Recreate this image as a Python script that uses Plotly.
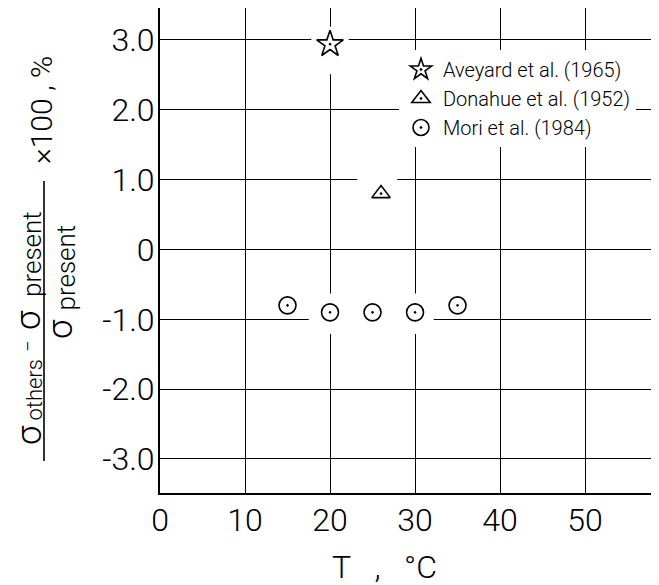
import plotly.graph_objects as go

# ---- data ----
aveyard_T = [20]
aveyard_dev = [2.94]
donahue_T = [26]
donahue_dev = [0.8]
mori_T = [15, 20, 25, 30, 35]
mori_dev = [-0.8, -0.9, -0.9, -0.9, -0.8]

x_tickvals = [0, 10, 20, 30, 40, 50]
x_ticktext = ["0", "10", "20", "30", "40", "50"]
y_tickvals = [3, 2, 1, 0, -1, -2, -3]
y_ticktext = ["3.0", "2.0", "1.0", "0", "-1.0", "-2.0", "-3.0"]

FONT = "Roboto"
OFF = 8                      # page body margin of the html page
W, H = 659 - OFF, 585 - OFF
ML, MT, MB, MR = 160 - OFF, 0, 92, 0

fig = go.Figure()

series = [
    ("Aveyard et al. (1965)", aveyard_T, aveyard_dev, "star-open-dot", 20),
    ("Donahue et al. (1952)", donahue_T, donahue_dev, "triangle-up-open-dot", 16),
    ("Mori et al. (1984)", mori_T, mori_dev, "circle-open-dot", 17),
]
for i, (name, xs, ys, sym, size) in enumerate(series):
    fig.add_trace(go.Scatter(
        x=xs, y=ys, mode="markers", name=name, legendgroup=str(i),
        marker=dict(symbol=sym, size=size, color="black",
                    line=dict(color="black", width=1.6)),
    ))

# white "whiteout" patches behind the symbols (as in the printed figure)
masks = [
    (min(aveyard_T) - 2.2, max(aveyard_T) + 2.2, min(aveyard_dev) - 0.43, max(aveyard_dev) + 0.25),
    (min(donahue_T) - 2.8, max(donahue_T) + 1.9, min(donahue_dev) - 0.2, max(donahue_dev) + 0.3),
    (mori_T[1] - 2.5, mori_T[3] + 2.2, min(mori_dev) - 0.31, min(mori_dev) + 0.27),
]
for x0, x1, y0, y1 in masks:
    fig.add_shape(type="rect", xref="x", yref="y", x0=x0, x1=x1, y0=y0, y1=y1,
                  fillcolor="white", line=dict(width=0), layer="between")

pw = W - ML - MR
ph = H - MT - MB
def px_x(p):   # page pixel -> paper x
    return (p - OFF - ML) / pw
def px_y(p):   # page pixel -> paper y
    return (H - MB - (p - OFF)) / ph

def label(text, cx, cy, size, angle=-90):
    fig.add_annotation(text=text, xref="paper", yref="paper",
                       x=px_x(cx), y=px_y(cy), textangle=angle, showarrow=False,
                       xanchor="center", yanchor="middle",
                       font=dict(family=FONT, size=size, color="black", weight=300))

NB = "\u00a0"
# y-axis title, built as a fraction
label("σ", 29, 435, 35)
label("others", 33.5, 390, 22)
label("−", 28, 347, 20)
label("σ", 29, 320, 35)
label("present", 32, 254, 26)
label("σ", 60, 329, 35)
label("present", 65.5, 268, 26)
label("×100 , %", 41, 110, 30)
fig.add_shape(type="line", xref="paper", yref="paper",
              x0=px_x(44), x1=px_x(44), y0=px_y(181), y1=px_y(461),
              line=dict(color="black", width=1.6))
# x-axis title
label("T" + NB * 3 + "," + NB * 3 + "°C", 384, 567, 32, angle=0)

fig.update_layout(
    width=W, height=H,
    margin=dict(l=ML, r=MR, t=MT, b=MB, autoexpand=False),
    paper_bgcolor="white", plot_bgcolor="white",
    font=dict(family=FONT, color="black"),
    showlegend=True,
    legend=dict(x=px_x(399), y=px_y(50), xanchor="left", yanchor="top",
                bgcolor="white", borderwidth=0,
                font=dict(family=FONT, size=20, color="black", weight=300),
                tracegroupgap=0, itemwidth=34, entrywidth=245),
    xaxis=dict(range=[0, 58.7], tickvals=x_tickvals, ticktext=x_ticktext,
               showgrid=True, gridcolor="black", gridwidth=1.3, automargin=False,
               zeroline=False, showline=True, linecolor="black", linewidth=2,
               mirror=True, ticks="", ticklabelstandoff=-2,
               tickfont=dict(family=FONT, size=32, color="black", weight=300)),
    yaxis=dict(range=[-3.487, 3.458], tickvals=y_tickvals, ticktext=y_ticktext,
               showgrid=True, gridcolor="black", gridwidth=1.3, automargin=False,
               zeroline=False, showline=True, linecolor="black", linewidth=2,
               mirror=False, ticks="", ticklabelstandoff=-3,
               tickfont=dict(family=FONT, size=32, color="black", weight=300)),
)

fig.write_html("out.html")
